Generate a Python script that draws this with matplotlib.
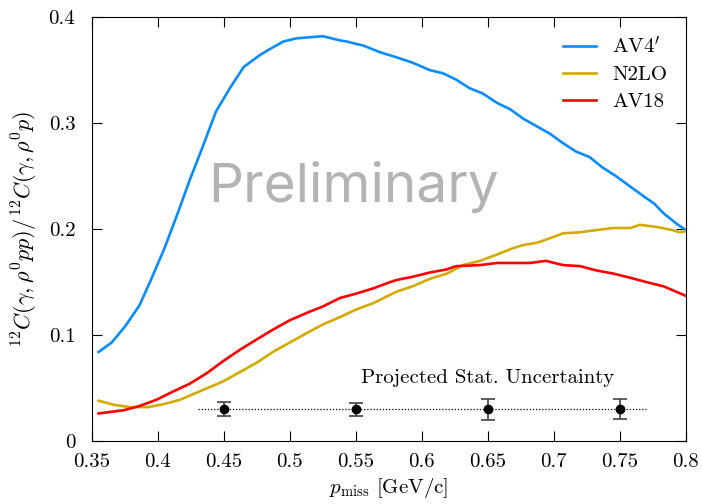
import numpy as np
import matplotlib
matplotlib.use('Agg')
import matplotlib.pyplot as plt

plt.rcParams['font.family'] = 'serif'
plt.rcParams['font.serif'] = ['cmr10']
plt.rcParams['mathtext.fontset'] = 'cm'
plt.rcParams['axes.formatter.use_mathtext'] = True

# AV4' ratio vs p_miss
av4_p = [0.355, 0.365, 0.375, 0.386, 0.395, 0.405, 0.415, 0.424, 0.434, 0.444,
         0.455, 0.465, 0.477, 0.485, 0.495, 0.505, 0.515, 0.525, 0.538, 0.543,
         0.556, 0.568, 0.581, 0.593, 0.606, 0.616, 0.626, 0.636, 0.646, 0.657,
         0.667, 0.677, 0.687, 0.697, 0.707, 0.717, 0.727, 0.737, 0.747, 0.758,
         0.768, 0.776, 0.783, 0.793, 0.800]
av4_r = [0.084, 0.093, 0.108, 0.128, 0.153, 0.182, 0.215, 0.246, 0.278, 0.311,
         0.334, 0.353, 0.364, 0.370, 0.377, 0.380, 0.381, 0.382, 0.378, 0.377,
         0.373, 0.367, 0.362, 0.357, 0.350, 0.347, 0.341, 0.333, 0.328, 0.319,
         0.313, 0.304, 0.297, 0.290, 0.281, 0.273, 0.268, 0.258, 0.250, 0.240,
         0.231, 0.224, 0.215, 0.205, 0.199]

# N2LO
n2lo_p = [0.355, 0.367, 0.379, 0.393, 0.405, 0.417, 0.430, 0.449, 0.462, 0.475,
          0.487, 0.500, 0.513, 0.525, 0.538, 0.550, 0.563, 0.576, 0.581, 0.593,
          0.606, 0.619, 0.631, 0.644, 0.657, 0.669, 0.677, 0.687, 0.694, 0.707,
          0.720, 0.732, 0.745, 0.758, 0.765, 0.778, 0.790, 0.795, 0.800]
n2lo_r = [0.038, 0.034, 0.032, 0.032, 0.035, 0.039, 0.046, 0.056, 0.065, 0.074,
          0.084, 0.093, 0.102, 0.110, 0.117, 0.124, 0.130, 0.138, 0.141, 0.146,
          0.153, 0.158, 0.166, 0.170, 0.176, 0.182, 0.185, 0.187, 0.190, 0.196,
          0.197, 0.199, 0.201, 0.201, 0.204, 0.202, 0.199, 0.197, 0.198]

# AV18
av18_p = [0.355, 0.374, 0.386, 0.399, 0.412, 0.424, 0.437, 0.449, 0.462, 0.475,
          0.487, 0.500, 0.513, 0.525, 0.538, 0.550, 0.563, 0.576, 0.581, 0.593,
          0.606, 0.619, 0.626, 0.644, 0.657, 0.669, 0.682, 0.694, 0.707, 0.720,
          0.732, 0.745, 0.758, 0.770, 0.783, 0.800]
av18_r = [0.026, 0.029, 0.033, 0.039, 0.047, 0.054, 0.064, 0.075, 0.086, 0.096,
          0.105, 0.114, 0.121, 0.127, 0.135, 0.139, 0.144, 0.150, 0.152, 0.155,
          0.159, 0.162, 0.165, 0.166, 0.168, 0.168, 0.168, 0.170, 0.166, 0.165,
          0.161, 0.158, 0.154, 0.150, 0.146, 0.137]

# projected statistical uncertainty
proj_p = [0.45, 0.55, 0.65, 0.75]
proj_r = [0.03, 0.03, 0.03, 0.03]
proj_err = [0.0065, 0.006, 0.010, 0.0092]
proj_band = [0.43, 0.77]

fig = plt.figure(figsize=(7.02, 5.04), dpi=100)
ax = fig.add_axes([0.131, 0.125, 0.846, 0.841])

ax.plot(av4_p, av4_r, color='#0a8cff', lw=1.9, label=r"AV4$'$")
ax.plot(n2lo_p, n2lo_r, color='#d4aa00', lw=1.9, label='N2LO')
ax.plot(av18_p, av18_r, color='#ff0000', lw=1.9, label='AV18')

ax.plot(proj_band, [proj_r[0], proj_r[0]], color='black', lw=0.9, ls=(0, (1, 1.5)))
ax.errorbar(proj_p, proj_r, yerr=proj_err, fmt='o', color='black', ms=6,
            ecolor='#444444', elinewidth=1.2, capsize=5, capthick=1.2)
ax.text(0.65, 0.059, 'Projected Stat. Uncertainty', ha='center', va='center', fontsize=15)

ax.text(0.548, 0.24, 'Preliminary', ha='center', va='center', fontsize=39.5,
        color='#b3b3b3', family='Inter')

ax.set_xlim(0.35, 0.8)
ax.set_ylim(0, 0.4)
ax.set_xticks(np.arange(0.35, 0.801, 0.05))
ax.set_xticklabels(['0.35', '0.4', '0.45', '0.5', '0.55', '0.6', '0.65', '0.7', '0.75', '0.8'])
ax.set_yticks([0, 0.1, 0.2, 0.3, 0.4])
ax.set_yticklabels(['0', '0.1', '0.2', '0.3', '0.4'])
ax.tick_params(direction='in', top=True, right=True, length=7, width=0.8, labelsize=15)
ax.tick_params(axis='x', pad=9)
ax.tick_params(axis='y', pad=12)

ax.set_xlabel(r'$p_{\rm miss}$ [GeV/c]', fontsize=15, labelpad=3)
ax.set_ylabel(r'$^{12}C(\gamma,\rho^0pp)/^{12}C(\gamma,\rho^0p)$', fontsize=16, labelpad=6)

ax.legend(loc='upper right', frameon=False, fontsize=15, handlelength=1.6,
          handletextpad=0.75, labelspacing=0.4, borderaxespad=0.5)

fig.savefig('out.png', dpi=100)
